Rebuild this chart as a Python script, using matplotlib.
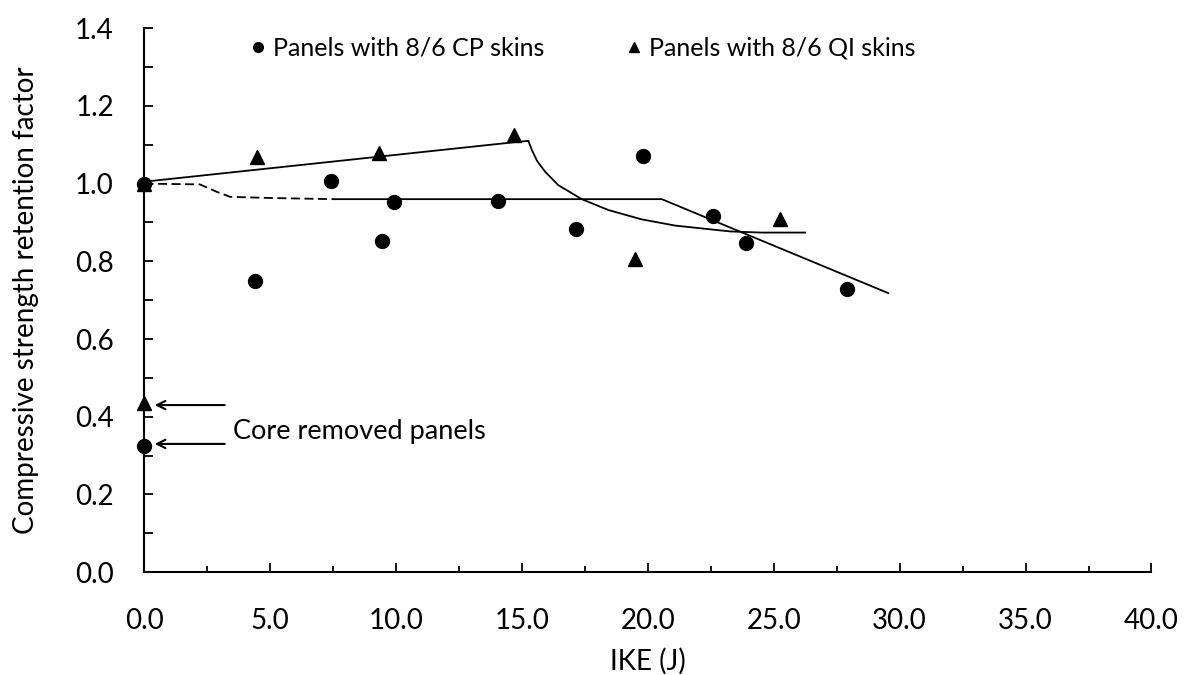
import matplotlib.pyplot as plt
from matplotlib.ticker import MultipleLocator, FormatStrFormatter

plt.rcParams['font.family'] = ['Lato', 'DejaVu Sans']

# measured points (IKE in J, retention factor)
cp_ike = [0.0, 4.4, 7.4, 9.45, 9.93, 14.06, 17.13, 19.79, 22.6, 23.88, 27.92]
cp_ret = [1.0, 0.749, 1.007, 0.853, 0.953, 0.956, 0.882, 1.072, 0.917, 0.848, 0.728]
qi_ike = [0.0, 4.48, 9.32, 14.68, 19.49, 25.25]
qi_ret = [1.0, 1.069, 1.08, 1.125, 0.805, 0.909]

# core removed panels
core_cp = 0.325
core_qi = 0.436

# trend lines
qi_trend_x = [0.0, 14.9, 15.25, 15.4, 15.6, 15.91, 16.44, 17.37, 18.43, 19.75, 21.08, 22.67, 23.26, 24.5, 26.24]
qi_trend_y = [1.005, 1.108, 1.110, 1.085, 1.058, 1.031, 0.996, 0.960, 0.932, 0.908, 0.892, 0.881, 0.877, 0.874, 0.874]
cp_dash_x = [0.0, 2.2, 2.87, 3.4, 5.0, 7.5]
cp_dash_y = [1.0, 0.998, 0.979, 0.966, 0.963, 0.960]
cp_trend_x = [7.5, 20.55, 29.55]
cp_trend_y = [0.960, 0.960, 0.718]

fig = plt.figure(figsize=(11.84, 6.75), dpi=100)
ax = fig.add_axes([0.122, 0.1524, 0.8505, 0.8058])

ax.plot(qi_trend_x, qi_trend_y, color='black', lw=1.3)
ax.plot(cp_dash_x, cp_dash_y, color='black', lw=1.3, dashes=(5, 2.5))
ax.plot(cp_trend_x, cp_trend_y, color='black', lw=1.3)

ax.plot(cp_ike, cp_ret, 'o', color='black', ms=10, label='Panels with 8/6 CP skins', clip_on=False, zorder=3)
ax.plot(qi_ike, qi_ret, '^', color='black', ms=10, label='Panels with 8/6 QI skins', clip_on=False, zorder=3)
ax.plot([0.0], [core_cp], 'o', color='black', ms=10, clip_on=False, zorder=3)
ax.plot([0.0], [core_qi], '^', color='black', ms=10, clip_on=False, zorder=3)

arrow = dict(arrowstyle='->,head_length=0.6,head_width=0.3', color='black', lw=1.5)
ax.annotate('', xy=(0.3, 0.430), xytext=(3.3, 0.430), arrowprops=arrow)
ax.annotate('', xy=(0.3, 0.330), xytext=(3.3, 0.330), arrowprops=arrow)
ax.text(3.5, 0.361, 'Core removed panels', fontsize=19.5, va='center', ha='left')

ax.set_xlim(0, 40)
ax.set_ylim(0, 1.4)
ax.xaxis.set_major_locator(MultipleLocator(5))
ax.xaxis.set_minor_locator(MultipleLocator(2.5))
ax.yaxis.set_major_locator(MultipleLocator(0.2))
ax.yaxis.set_minor_locator(MultipleLocator(0.1))
ax.xaxis.set_major_formatter(FormatStrFormatter('%.1f'))
ax.yaxis.set_major_formatter(FormatStrFormatter('%.1f'))

for s in ['top', 'right']:
    ax.spines[s].set_visible(False)
for s in ['left', 'bottom']:
    ax.spines[s].set_linewidth(1.5)

ax.tick_params(axis='x', which='major', direction='in', length=6.5, width=1.3, labelsize=20, pad=26)
ax.tick_params(axis='x', which='minor', direction='in', length=4.3, width=1.3)
ax.tick_params(axis='y', which='both', direction='in', length=6.5, width=1.3, labelsize=20, pad=22)

ax.set_xlabel('IKE (J)', fontsize=20, labelpad=10)
ax.set_ylabel('Compressive strength retention factor', fontsize=20, labelpad=26)

ax.legend(ncol=2, frameon=False, loc='center left', bbox_to_anchor=(0.105, 0.963),
          borderpad=0, borderaxespad=0, handlelength=0.6, handletextpad=0.3,
          columnspacing=3.3, fontsize=18, markerscale=0.7)

plt.savefig('out.png', dpi=100)
